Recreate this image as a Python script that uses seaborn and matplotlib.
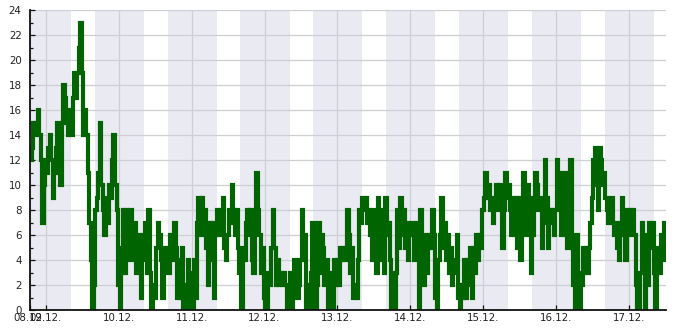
import matplotlib
matplotlib.use("Agg")
import matplotlib.pyplot as plt
import matplotlib.dates as mdates
from matplotlib.ticker import MultipleLocator
import seaborn as sns
import pandas as pd

# ---- data: 30-minute readings starting 08.12. 18:45 ----
start_time = "2023-12-08 18:45"
step = "30min"

vals_08_10 = [12, 13, 15, 14, 15, 16, 14, 12, 7, 10, 12, 11, 13, 14, 12, 9, 11, 13, 15, 12,
              10, 15, 18, 17, 15, 14, 16, 14, 17, 19, 17, 19, 21, 23, 19, 14, 16, 14, 11, 7,
              4, 0, 2, 8, 9, 11, 15, 10, 8, 6, 9, 7, 10, 9, 12, 14, 10, 8, 2, 0,
              5, 8, 3, 8, 4, 6, 8, 5, 4, 7, 3, 6, 5, 1, 6, 4, 7, 3, 8, 3,
              0, 2, 1, 5, 7]
vals_10_12 = [6, 4, 1, 5, 4, 5, 3, 6, 4, 5, 7, 5, 1, 4, 1, 5, 0, 2, 0, 4,
              1, 3, 0, 4, 1, 7, 9, 6, 9, 7, 8, 5, 2, 7, 4, 7, 1, 6, 8, 6,
              8, 7, 9, 5, 4, 6, 8, 7, 10, 8, 6, 8, 5, 3, 0, 5, 4, 7, 8, 6,
              8, 4, 3, 7, 11, 8, 6, 3, 5, 1, 0, 0, 3, 2, 5, 8, 5, 2, 4, 2,
              3, 2, 3]
vals_12_14 = [2, 0, 1, 3, 0, 3, 4, 2, 1, 2, 4, 8, 4, 6, 0, 2, 0, 3, 7, 4,
              0, 2, 7, 3, 6, 5, 2, 4, 0, 1, 3, 0, 4, 2, 4, 2, 5, 4, 5, 4,
              5, 8, 6, 3, 5, 1, 2, 1, 4, 8, 7, 9, 8, 9, 7, 8, 6, 4, 8, 6,
              3, 9, 7, 8, 4, 3, 9, 6, 7, 4, 0, 3, 0, 3, 8, 5, 9, 6, 8, 5,
              7, 4, 6, 7]
vals_14_15 = [6, 4, 7, 5, 0, 8, 5, 2, 6, 3, 5, 6, 5, 8, 6, 1, 0, 4, 6, 9,
              5, 7, 4, 6, 3, 5, 2, 4, 3, 6, 1, 0, 2, 1, 4, 1, 4, 2, 5, 1,
              5, 3, 6, 4, 6, 5, 8, 9, 11, 9, 10, 8, 9, 7, 9, 10, 8, 10, 9, 5,
              8, 11, 9, 10, 8, 6, 9, 7, 9, 5, 9, 4, 8, 11, 9, 6, 10, 9, 3, 6,
              9, 11, 10, 8]
vals_15_17 = [9, 5, 7, 12, 9, 5, 8, 7, 8, 6, 8, 12, 9, 11, 6, 8, 11, 7, 5, 9,
              12, 5, 2, 0, 6, 3, 0, 2, 5, 3, 5, 3, 5, 7, 9, 12, 13, 10, 8, 13,
              12, 10, 11, 9, 8, 7, 8, 9, 7, 6, 7, 5, 4, 7, 9, 6, 4, 8, 6, 8,
              7, 8, 6, 2, 0, 0, 3, 7, 4, 0, 6, 2, 7, 5, 7, 3, 0, 4, 5, 3,
              6, 4, 7, 6]

values = vals_08_10 + vals_10_12 + vals_12_14 + vals_14_15 + vals_15_17
y_ticks = list(range(0, 25, 2))
date_fmt = "%d.%m."
sunset = "16:05"
sunrise = "08:15"

times = pd.date_range(start_time, periods=len(values), freq=step)
df = pd.DataFrame({"time": times, "value": values})

# ---- figure ----
sns.set_theme(style="white")
plt.rcParams["font.family"] = ["DejaVu Sans"]

fig = plt.figure(figsize=(6.85, 3.30), dpi=100)
ax = fig.add_axes([30 / 685, 1 - 310 / 330, 636 / 685, 300 / 330])

t0, t1 = times[0], times[-1]
# night shading
day = t0.normalize() - pd.Timedelta(days=1)
while day <= t1:
    ns = pd.Timestamp(f"{day.date()} {sunset}")
    ne = pd.Timestamp(f"{(day + pd.Timedelta(days=1)).date()} {sunrise}")
    ax.axvspan(max(ns, t0), min(ne, t1), color="#eaeaf2", lw=0, zorder=0)
    day += pd.Timedelta(days=1)

sns.lineplot(data=df, x="time", y="value", ax=ax, color="#006400",
             linewidth=3.0, drawstyle="steps-post", estimator=None, zorder=3,
             solid_joinstyle="miter", solid_capstyle="butt")

ax.set_xlim(t0, t1)
ax.set_ylim(0, 24)
ax.set_xlabel("")
ax.set_ylabel("")

midnights = pd.date_range(t0.normalize() + pd.Timedelta(days=1), t1, freq="D")
xt = [t0] + list(midnights)
ax.set_xticks(xt)
ax.xaxis.set_major_formatter(mdates.DateFormatter(date_fmt))
ax.set_yticks(y_ticks)
ax.yaxis.set_minor_locator(MultipleLocator(1))

ax.grid(True, which="major", color="#cfcfd3", linewidth=0.9, zorder=0.5)
ax.set_axisbelow(True)

for s in ["top", "right"]:
    ax.spines[s].set_visible(False)
for s in ["left", "bottom"]:
    ax.spines[s].set_color("#111111")
    ax.spines[s].set_linewidth(1.3)
    ax.spines[s].set_zorder(4)

ax.tick_params(axis="y", which="major", direction="in", length=3.5, width=0.9,
               left=True, labelsize=7.4, pad=6, colors="#111111")
ax.tick_params(axis="y", which="minor", direction="in", length=2, width=0.9, left=True,
               colors="#111111")
ax.tick_params(axis="x", which="major", direction="in", length=3.5, width=0.9,
               bottom=True, labelsize=7.4, pad=2, colors="#111111")
for lab in ax.get_xticklabels() + ax.get_yticklabels():
    lab.set_color("#222222")

fig.savefig("out.png", dpi=100, facecolor="white")
